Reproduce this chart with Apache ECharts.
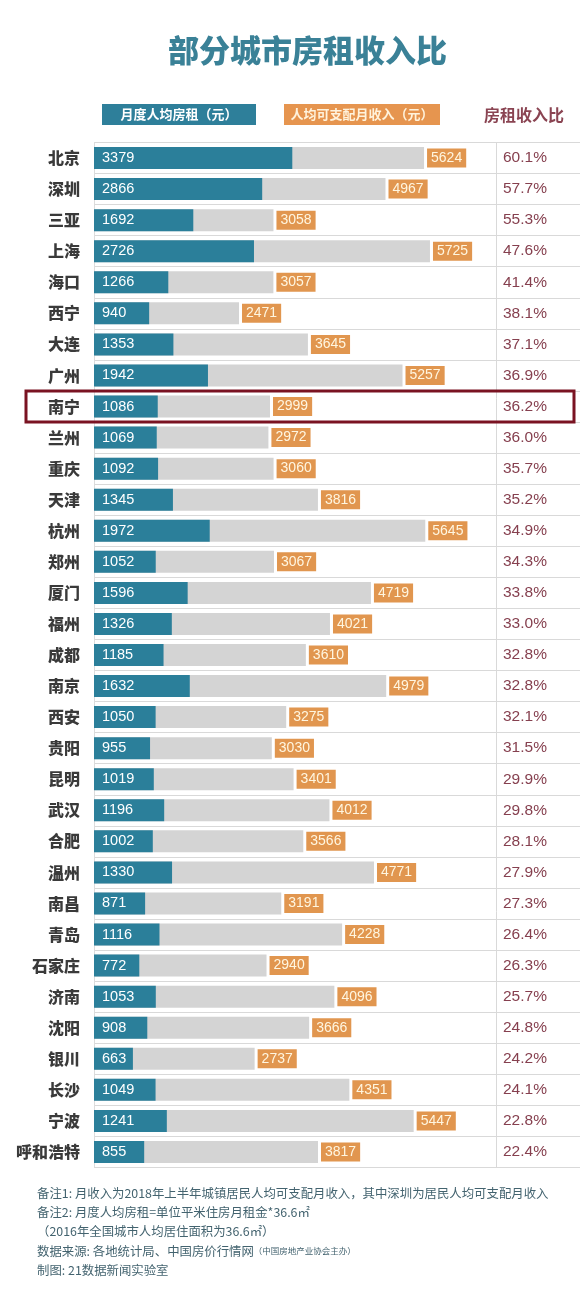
<!DOCTYPE html>
<html><head><meta charset="utf-8">
<script src="https://cdn.jsdelivr.net/npm/echarts@6/dist/echarts.min.js"></script>
<style>html,body{margin:0;padding:0;background:#fff}#c{width:580px;height:1297px}</style>
</head><body><div id="c"></div>
<script>
const cities = ['北京','深圳','三亚','上海','海口','西宁','大连','广州','南宁','兰州','重庆','天津','杭州','郑州','厦门','福州','成都','南京','西安','贵阳','昆明','武汉','合肥','温州','南昌','青岛','石家庄','济南','沈阳','银川','长沙','宁波','呼和浩特'];
const rent = [3379,2866,1692,2726,1266,940,1353,1942,1086,1069,1092,1345,1972,1052,1596,1326,1185,1632,1050,955,1019,1196,1002,1330,871,1116,772,1053,908,663,1049,1241,855];
const income = [5624,4967,3058,5725,3057,2471,3645,5257,2999,2972,3060,3816,5645,3067,4719,4021,3610,4979,3275,3030,3401,4012,3566,4771,3191,4228,2940,4096,3666,2737,4351,5447,3817];
const ratios = ['60.1%','57.7%','55.3%','47.6%','41.4%','38.1%','37.1%','36.9%','36.2%','36.0%','35.7%','35.2%','34.9%','34.3%','33.8%','33.0%','32.8%','32.8%','32.1%','31.5%','29.9%','29.8%','28.1%','27.9%','27.3%','26.4%','26.3%','25.7%','24.8%','24.2%','24.1%','22.8%','22.4%'];
const highlightCity = '南宁';
const titleText = '部分城市房租收入比';
const legendRent = '月度人均房租（元）';
const legendIncome = '人均可支配月收入（元）';
const legendRatio = '房租收入比';
const notes = [
  '备注1: 月收入为2018年上半年城镇居民人均可支配月收入，其中深圳为居民人均可支配月收入',
  '备注2: 月度人均房租=单位平米住房月租金*36.6㎡',
  '（2016年全国城市人均居住面积为36.6㎡）',
  '数据来源: 各地统计局、中国房价行情网',
  '制图: 21数据新闻实验室'
];
const noteSmall = '（中国房地产业协会主办）';

const CJK = '"Noto Sans CJK SC","Noto Sans",sans-serif';
const NUM = '"Liberation Sans",Arial,sans-serif';
const GRID_TOP = 142.5, GRID_H = 1025;

const chart = echarts.init(document.getElementById('c'), null, {renderer:'canvas'});
chart.setOption({
  animation:false,
  backgroundColor:'#ffffff',
  title:{text:titleText,left:163,top:30,textStyle:{fontFamily:CJK,fontSize:31,fontWeight:900,color:'#3a8197'}},
  grid:[
    {left:94,width:402,top:GRID_TOP,height:GRID_H},
    {left:496,right:0,top:GRID_TOP,height:GRID_H}
  ],
  xAxis:[
    {gridIndex:0,type:'value',min:0,max:6850,show:false},
    {gridIndex:1,type:'value',min:0,max:1,show:false}
  ],
  yAxis:[
    {gridIndex:0,type:'category',data:cities,inverse:true,
     axisLine:{show:true,lineStyle:{color:'#dcdcdc'}},axisTick:{show:false},
     splitLine:{show:true,interval:0,lineStyle:{color:'#d9d9d9',width:1}},
     axisLabel:{interval:0,margin:14,fontFamily:CJK,fontSize:16,fontWeight:900,color:'#3a3a3a'}},
    {gridIndex:1,type:'category',data:cities,inverse:true,
     axisLine:{show:true,lineStyle:{color:'#d9d9d9'}},axisTick:{show:false},
     splitLine:{show:true,interval:0,lineStyle:{color:'#d9d9d9',width:1}},
     axisLabel:{inside:true,interval:0,margin:7,fontFamily:NUM,fontSize:15.5,color:'#86404f',
       formatter:(v,i)=>ratios[i]}}
  ],
  series:[
    {type:'bar',xAxisIndex:0,yAxisIndex:0,data:income,barWidth:22,barGap:'-100%',
     itemStyle:{color:'#d4d4d4'},
     label:{show:true,position:'right',distance:3,fontFamily:NUM,fontSize:14,color:'#fff6e0',
       backgroundColor:'#e1964f',padding:[3,4,2,4],lineHeight:14}},
    {type:'bar',xAxisIndex:0,yAxisIndex:0,data:rent,barWidth:22,barGap:'-100%',
     itemStyle:{color:'#2b7f9a'},
     label:{show:true,position:'insideLeft',distance:8,fontFamily:NUM,fontSize:14.5,color:'#ffffff'}}
  ]
});

const cy = chart.convertToPixel({yAxisIndex:0}, highlightCity);
const band = GRID_H / cities.length;
const graphics = [
  {type:'rect',shape:{x:102,y:104,width:154,height:21},style:{fill:'#2e7f9a'}},
  {type:'text',x:179,y:114.5,style:{text:legendRent,fontFamily:CJK,fontSize:13,fontWeight:'bold',fill:'#ffffff',align:'center',verticalAlign:'middle'}},
  {type:'rect',shape:{x:284,y:104,width:156,height:21},style:{fill:'#e6954f'}},
  {type:'text',x:362,y:114.5,style:{text:legendIncome,fontFamily:CJK,fontSize:13,fontWeight:'bold',fill:'#fff3dc',align:'center',verticalAlign:'middle'}},
  {type:'text',x:524,y:114.5,style:{text:legendRatio,fontFamily:CJK,fontSize:16,fontWeight:'bold',fill:'#8a4452',align:'center',verticalAlign:'middle'}},
  {type:'rect',shape:{x:26,y:cy-band/2,width:548,height:band},style:{fill:'none',stroke:'#7a1322',lineWidth:3},z:100}
];
const noteY = [1193,1212,1231,1251,1270];
notes.forEach((t,i)=>{
  const txt = i===3 ? t+'{s|'+noteSmall+'}' : t;
  graphics.push({type:'text',x:37,y:noteY[i],style:{text:txt,fontFamily:CJK,fontSize:12.4,fill:'#43636f',verticalAlign:'middle',
    rich:{s:{fontFamily:CJK,fontSize:8.5,fill:'#43636f'}}}});
});
chart.setOption({graphic:graphics});
</script></body></html>
